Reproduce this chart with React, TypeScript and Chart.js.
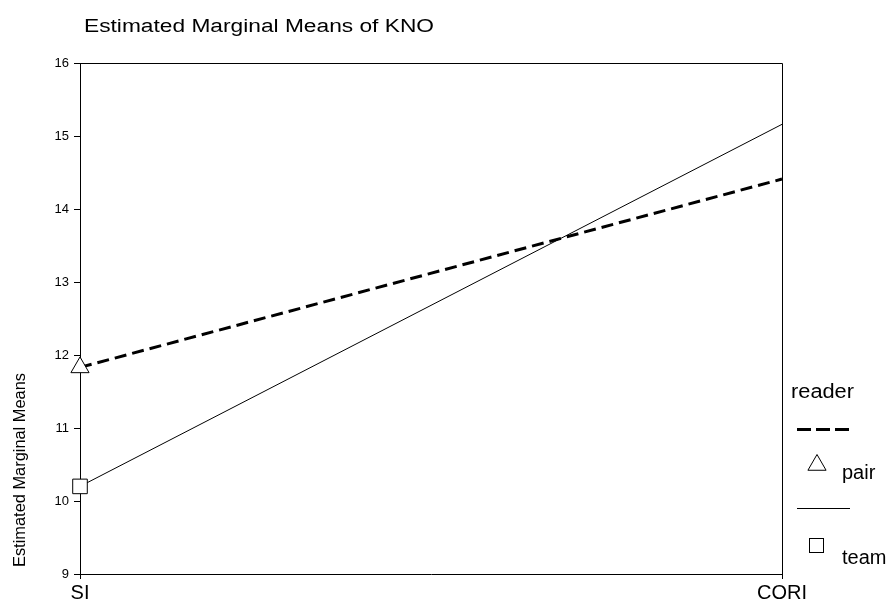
import React, { useEffect, useRef } from "react";
import { Chart, registerables } from "chart.js";

Chart.register(...registerables);

const titleText = "Estimated Marginal Means of KNO";
const yAxisTitle = "Estimated Marginal Means";
const legendTitle = "reader";
const categories = ["SI", "CORI"];
const seriesNames = ["pair", "team"];
const pairValues = [11.83, 14.41];
const teamValues = [10.2, 15.16];
const yMin = 9;
const yMax = 16;
const yStep = 1;

const FONT = "'Liberation Sans', Arial, sans-serif";

function fitText(ctx: CanvasRenderingContext2D, text: string, x: number, y: number, target: number) {
  const w = ctx.measureText(text).width;
  ctx.save();
  ctx.translate(x, y);
  ctx.scale(target / w, 1);
  ctx.fillText(text, 0, 0);
  ctx.restore();
}

const decorPlugin = {
  id: "decor",
  afterDraw(chart: any) {
    const ctx: CanvasRenderingContext2D = chart.ctx;
    const { top, right, left, bottom } = chart.chartArea;
    ctx.save();
    ctx.strokeStyle = "#000";
    ctx.fillStyle = "#000";
    ctx.lineWidth = 1;
    // frame top & right
    ctx.beginPath();
    ctx.moveTo(Math.round(left) - 0.5, Math.round(top) + 0.5);
    ctx.lineTo(Math.round(right) + 0.5, Math.round(top) + 0.5);
    ctx.lineTo(Math.round(right) + 0.5, Math.round(bottom) + 0.5);
    ctx.stroke();

    // title
    ctx.font = `18px ${FONT}`;
    ctx.textAlign = "left";
    ctx.textBaseline = "alphabetic";
    fitText(ctx, titleText, 84, 32, 350);

    // y axis title
    ctx.save();
    ctx.translate(25, 470);
    ctx.rotate(-Math.PI / 2);
    ctx.font = `16px ${FONT}`;
    ctx.textBaseline = "alphabetic";
    fitText(ctx, yAxisTitle, -97, 0, 194);
    ctx.restore();

    // legend
    ctx.font = `20px ${FONT}`;
    ctx.textAlign = "left";
    ctx.textBaseline = "alphabetic";
    fitText(ctx, legendTitle, 791, 398, 63);

    ctx.lineWidth = 3;
    ctx.setLineDash([14, 5]);
    ctx.beginPath();
    ctx.moveTo(797, 429.5);
    ctx.lineTo(849, 429.5);
    ctx.stroke();
    ctx.setLineDash([]);

    // triangle
    ctx.lineWidth = 1;
    const tx = 817, ty = 465, r = 10.5;
    ctx.beginPath();
    ctx.moveTo(tx, ty - r);
    ctx.lineTo(tx + r * Math.sin(Math.PI * 2 / 3), ty + r / 2);
    ctx.lineTo(tx - r * Math.sin(Math.PI * 2 / 3), ty + r / 2);
    ctx.closePath();
    ctx.fillStyle = "#fff";
    ctx.fill();
    ctx.stroke();
    ctx.fillStyle = "#000";
    ctx.fillText(seriesNames[0], 842, 479);

    ctx.beginPath();
    ctx.moveTo(797, 508.5);
    ctx.lineTo(850, 508.5);
    ctx.stroke();

    // square
    ctx.strokeRect(809.5, 538.5, 14, 14);
    ctx.fillText(seriesNames[1], 842, 564);
    ctx.restore();
  },
};

export default function App() {
  const ref = useRef<HTMLCanvasElement | null>(null);
  useEffect(() => {
    if (!ref.current) return;
    const chart = new Chart(ref.current, {
      type: "line",
      data: {
        labels: categories,
        datasets: [
          {
            label: seriesNames[0],
            data: pairValues,
            borderColor: "#000",
            borderWidth: 3,
            borderDash: [12, 6],
            pointStyle: "triangle",
            pointRadius: [10.5, 0],
            pointBackgroundColor: "#fff",
            pointBorderColor: "#000",
            pointBorderWidth: 1,
            tension: 0,
            fill: false,
            clip: false,
          } as any,
          {
            label: seriesNames[1],
            data: teamValues,
            borderColor: "#000",
            borderWidth: 1,
            pointStyle: "rect",
            pointRadius: [10.3, 0],
            pointBackgroundColor: "#fff",
            pointBorderColor: "#000",
            pointBorderWidth: 1,
            tension: 0,
            fill: false,
            clip: false,
          } as any,
        ],
      },
      options: {
        responsive: false,
        maintainAspectRatio: false,
        animation: false,
        layout: { padding: { top: 63, right: 111, left: 0, bottom: 0 } },
        plugins: {
          legend: { display: false },
          title: { display: false },
          tooltip: { enabled: false },
        },
        scales: {
          x: {
            type: "category",
            offset: false,
            grid: {
              display: true,
              drawOnChartArea: false,
              drawTicks: true,
              tickLength: 5,
              color: "#000",
            },
            border: { display: true, color: "#000", width: 1 },
            ticks: {
              color: "#000",
              font: { family: FONT, size: 20 },
              padding: 2,
              maxRotation: 0,
              autoSkip: false,
            },
            afterFit: (s: any) => {
              s.height = 27;
            },
          },
          y: {
            min: yMin,
            max: yMax,
            grid: {
              display: true,
              drawOnChartArea: false,
              drawTicks: true,
              tickLength: 6,
              color: "#000",
            },
            border: { display: true, color: "#000", width: 1 },
            ticks: {
              stepSize: yStep,
              color: "#000",
              font: { family: FONT, size: 13 },
              padding: 5,
            },
            afterFit: (s: any) => {
              s.width = 80;
            },
          },
        },
      },
      plugins: [decorPlugin],
    });
    return () => chart.destroy();
  }, []);
  return (
    <div style={{ position: "fixed", left: 0, top: 0, width: 893, height: 601, background: "#fff" }}>
      <canvas ref={ref} width={893} height={601} style={{ width: 893, height: 601, display: "block" }} />
    </div>
  );
}
